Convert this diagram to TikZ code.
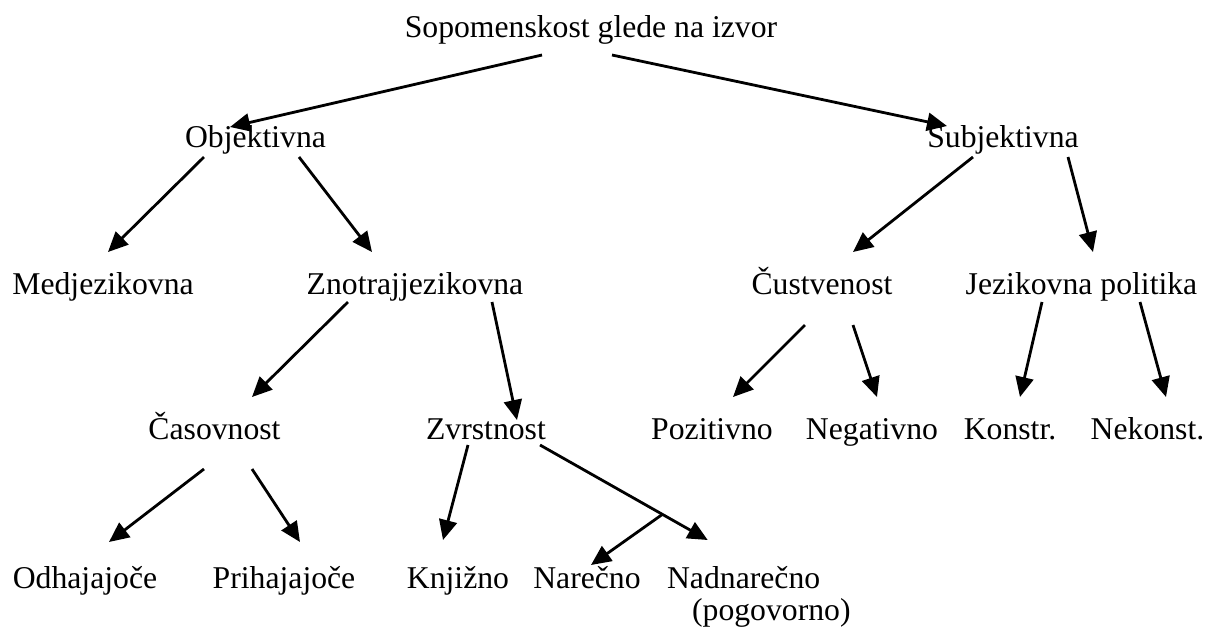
\documentclass[tikz,border=0pt]{standalone}
\usepackage{fontspec}
\setmainfont{Liberation Serif}
\usetikzlibrary{arrows.meta}

\begin{document}
\begin{tikzpicture}[x=0.5pt,y=-0.5pt,
		every node/.style={inner sep=0pt,anchor=base,font=\fontsize{15.85pt}{16pt}\selectfont},
		arr/.style={-{Triangle[length=10pt,width=9pt]},line width=1.4pt}]
	\useasboundingbox (0,0) rectangle (1207,634);
	\node (root) at (591,37) {Sopomenskost glede na izvor};
	\node (obj) at (255.5,147) {Objektivna};
	\node (subj) at (1003,147) {Subjektivna};
	\node (medj) at (103,294) {Medjezikovna};
	\node (znot) at (415,294) {Znotrajjezikovna};
	\node (cust) at (822,294) {Čustvenost};
	\node (jez) at (1081.5,294) {Jezikovna politika};
	\node (cas) at (214.5,439) {Časovnost};
	\node (zvrst) at (486,439) {Zvrstnost};
	\node (poz) at (712,439) {Pozitivno};
	\node (neg) at (872,439) {Negativno};
	\node (konstr) at (1010,439) {Konstr.};
	\node (nekonst) at (1147.5,439) {Nekonst.};
	\node (odh) at (85,588) {Odhajajoče};
	\node (prih) at (284,588) {Prihajajoče};
	\node (knj) at (458,588) {Knjižno};
	\node (nar) at (587,588) {Narečno};
	\node[anchor=base west,align=left] (nadnar) at (666.7,620) {Nadnarečno\\\hspace*{12.5pt}(pogovorno)};
	\path[arr]
	([shift={(-49,18)}]root.base) edge ([shift={(-25.5,-20)}]obj.base)
	([shift={(21,18)}]root.base) edge ([shift={(-56,-21)}]subj.base)
	([shift={(-51.5,10)}]obj.base) edge ([shift={(5,-42)}]medj.base)
	([shift={(43.5,10)}]obj.base) edge ([shift={(-43,-42)}]znot.base)
	([shift={(-30,10)}]subj.base) edge ([shift={(31,-42)}]cust.base)
	([shift={(65,10)}]subj.base) edge ([shift={(11.5,-42)}]jez.base)
	([shift={(-67,8)}]znot.base) edge ([shift={(37.5,-42)}]cas.base)
	([shift={(77,8)}]znot.base) edge ([shift={(31,-19)}]zvrst.base)
	([shift={(-17,31)}]cust.base) edge ([shift={(21,-42)}]poz.base)
	([shift={(31,31)}]cust.base) edge ([shift={(5,-42)}]neg.base)
	([shift={(-39.5,8)}]jez.base) edge ([shift={(10,-42)}]konstr.base)
	([shift={(58.5,8)}]jez.base) edge ([shift={(18.5,-42)}]nekonst.base)
	([shift={(-10.5,30)}]cas.base) edge ([shift={(24,-46)}]odh.base)
	([shift={(37.5,30)}]cas.base) edge ([shift={(16,-46)}]prih.base)
	([shift={(-18,6)}]zvrst.base) edge ([shift={(-15,-48)}]knj.base);
	\draw[arr] ([shift={(54,6)}]zvrst.base) -- coordinate[pos=.73] (fork) ([shift={(41,-80)}]nadnar.base west);
	\draw[arr] (fork) -- ([shift={(4,-23)}]nar.base);
\end{tikzpicture}
\end{document}
